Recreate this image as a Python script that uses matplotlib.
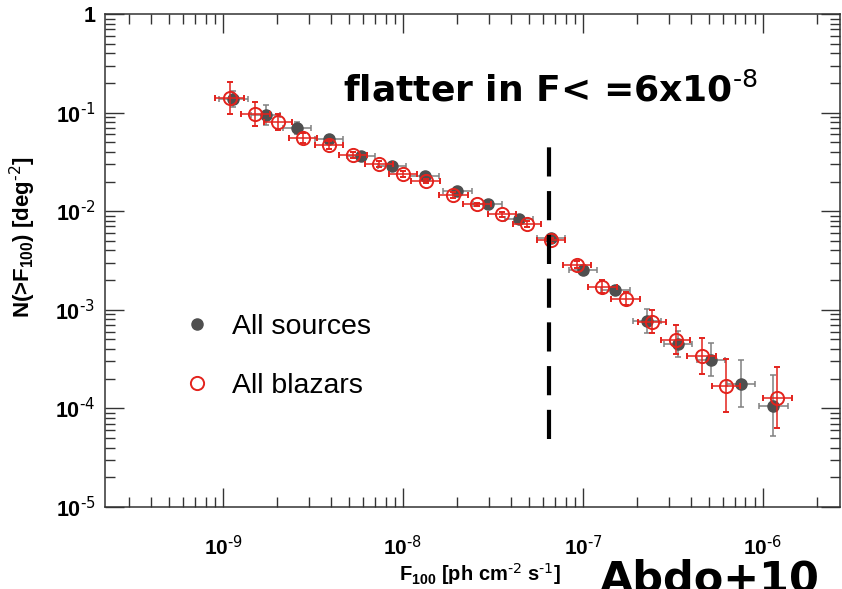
import numpy as np
import matplotlib
matplotlib.use("Agg")
import matplotlib.pyplot as plt
from matplotlib.lines import Line2D
from matplotlib.ticker import LogLocator, FuncFormatter, NullFormatter

plt.rcParams['font.family'] = ['Liberation Sans', 'DejaVu Sans']
plt.rcParams['mathtext.default'] = 'regular'

# All sources (grey, filled)
src_flux = [1.14e-9, 1.73e-9, 2.58e-9, 3.88e-9, 5.85e-9, 8.69e-9, 1.32e-8, 2.0e-8, 2.96e-8,
            4.41e-8, 6.64e-8, 1.0e-7, 1.51e-7, 2.27e-7, 3.37e-7, 5.14e-7, 7.55e-7, 1.14e-6]
src_n = [0.137, 0.0942, 0.0694, 0.0537, 0.0360, 0.0285, 0.0226, 0.0159, 0.0117,
         0.00826, 0.00529, 0.00256, 0.00157, 7.76e-4, 4.53e-4, 3.12e-4, 1.78e-4, 1.06e-4]
src_err_dex = [0.08, 0.10, 0.06, 0.04, 0.03, 0.03, 0.03, 0.03, 0.03,
               0.03, 0.03, 0.05, 0.05, 0.12, 0.13, 0.17, 0.24, 0.31]

# All blazars (red, open)
blz_flux = [1.09e-9, 1.51e-9, 2.02e-9, 2.78e-9, 3.88e-9, 5.28e-9, 7.36e-9, 1.0e-8, 1.34e-8,
            1.90e-8, 2.58e-8, 3.55e-8, 4.89e-8, 6.64e-8, 9.27e-8, 1.28e-7, 1.73e-7, 2.42e-7,
            3.28e-7, 4.58e-7, 6.23e-7, 1.20e-6]
blz_n = [0.140, 0.0964, 0.0799, 0.0549, 0.0467, 0.0369, 0.0299, 0.0237, 0.0201,
         0.0145, 0.0117, 0.00927, 0.00734, 0.00505, 0.00288, 0.00172, 0.00130, 7.59e-4,
         4.98e-4, 3.42e-4, 1.70e-4, 1.28e-4]
blz_err_dex = [0.16, 0.12, 0.08, 0.05, 0.04, 0.03, 0.03, 0.03, 0.02,
               0.03, 0.02, 0.03, 0.03, 0.03, 0.04, 0.07, 0.07, 0.12,
               0.15, 0.18, 0.27, 0.31]

bin_half_dex = 0.08   # horizontal bar half-width

break_flux = 6.5e-8
break_n = [4.9e-5, 0.055]


def log_err(v, dex):
    v = np.asarray(v); d = np.asarray(dex)
    return np.vstack([v - v * 10**(-d), v * 10**d - v])


fig = plt.figure(figsize=(8.42, 5.89), dpi=100)
ax = fig.add_axes([0.1247, 0.1392, 0.8729, 0.8370])

grey = '#4f4f4f'
red = '#e3231d'
ax.errorbar(src_flux, src_n, xerr=log_err(src_flux, [bin_half_dex] * len(src_flux)),
            yerr=log_err(src_n, src_err_dex), fmt='o', color=grey, ecolor='#808080',
            ms=8, elinewidth=1.1, capsize=2.2, capthick=1.1, zorder=3)
ax.errorbar(blz_flux, blz_n, xerr=log_err(blz_flux, [bin_half_dex] * len(blz_flux)),
            yerr=log_err(blz_n, blz_err_dex), fmt='o', mfc='none', mec=red, mew=1.4,
            color=red, ecolor=red, ms=9.5, elinewidth=1.1, capsize=2.2, capthick=1.1, zorder=4)

ax.plot([break_flux, break_flux], break_n, color='black', lw=3, ls=(0, (7, 3.5)), zorder=5)

ax.set_xscale('log'); ax.set_yscale('log')
ax.set_xlim(2.21e-10, 2.68e-6)
ax.set_ylim(1e-5, 1)


def fmt(v, pos):
    e = int(round(np.log10(v)))
    return '1' if e == 0 else r'$10^{\text{-%d}}$' % abs(e)


for axis in (ax.xaxis, ax.yaxis):
    axis.set_major_locator(LogLocator(base=10, numticks=20))
    axis.set_minor_locator(LogLocator(base=10, subs=np.arange(2, 10), numticks=20))
    axis.set_major_formatter(FuncFormatter(fmt))
    axis.set_minor_formatter(NullFormatter())

ax.tick_params(which='both', direction='in', top=True, right=True, color='#333333', width=1.0)
ax.tick_params(which='major', length=14)
ax.tick_params(which='minor', length=7)
ax.tick_params(axis='x', which='major', pad=20, labelsize=15)
ax.tick_params(axis='y', which='major', pad=7, labelsize=15.5)
for lbl in ax.get_xticklabels() + ax.get_yticklabels():
    lbl.set_fontweight('bold')
for s in ax.spines.values():
    s.set_color('#333333'); s.set_linewidth(1.1)

ax.set_xlabel(r'F$_{100}$ [ph cm$^{\text{-2}}$ s$^{\text{-1}}$]', fontsize=14.5, fontweight='bold')
ax.set_ylabel(r'N(>F$_{100}$) [deg$^{\text{-2}}$]', fontsize=16, fontweight='bold')
ax.xaxis.set_label_coords(0.51, -0.11)
ax.yaxis.set_label_coords(-0.091, 0.548)

handles = [Line2D([], [], ls='none', marker='o', color=grey, ms=8),
           Line2D([], [], ls='none', marker='o', mfc='none', mec=red, mew=1.4, ms=9.5)]
ax.legend(handles, ['All sources', 'All blazars'], loc='upper left',
          bbox_to_anchor=(0.2185, 0.467), bbox_transform=fig.transFigure,
          frameon=False, fontsize=20.5, handlelength=0.92, handletextpad=0.77,
          labelspacing=1.15, borderpad=0, borderaxespad=0)

fig.text(343 / 842, 1 - 102 / 589, r'flatter in F< =6x10$^{\text{-8}}$', fontsize=26,
         fontweight='bold', family='DejaVu Sans', va='baseline', ha='left')
fig.text(600 / 842, -0.005, 'Abdo+10', fontsize=31, fontweight='bold',
         family='DejaVu Sans', va='baseline', ha='left')

fig.savefig('out.png', dpi=100)
